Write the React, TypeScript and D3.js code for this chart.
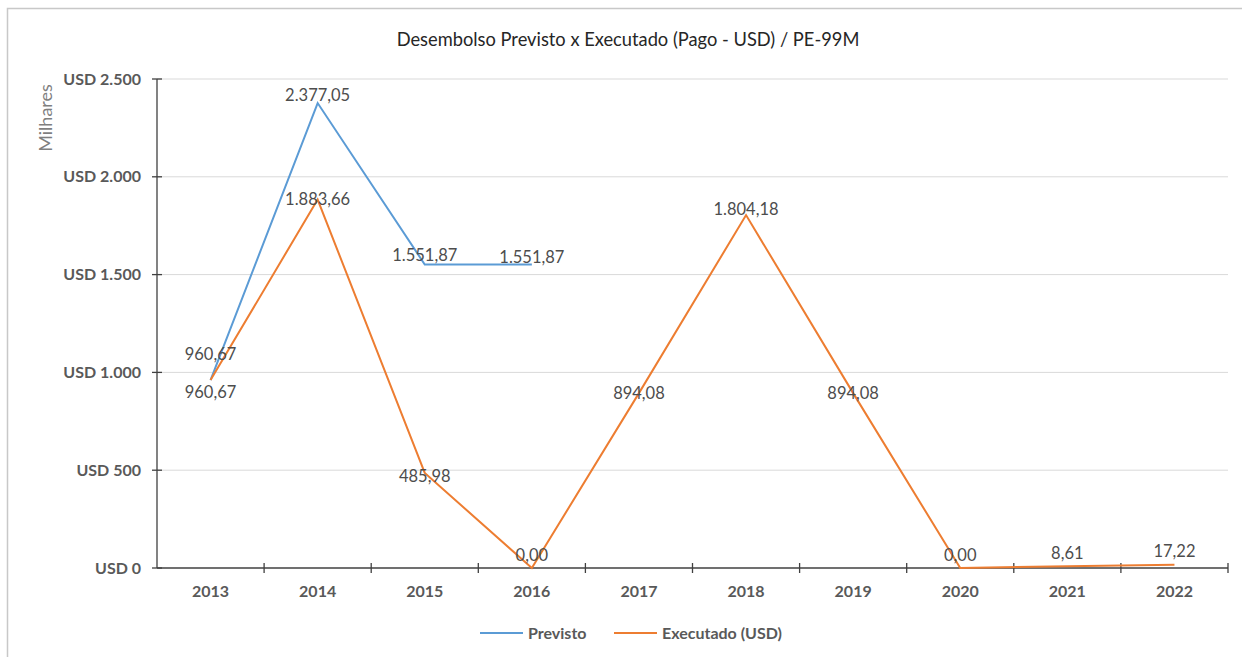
import React from "react";
import * as d3 from "d3";

const years = ["2013", "2014", "2015", "2016", "2017", "2018", "2019", "2020", "2021", "2022"];
const previsto: (number | null)[] = [960.67, 2377.05, 1551.87, 1551.87, null, null, null, null, null, null];
const executado: number[] = [960.67, 1883.66, 485.98, 0, 894.08, 1804.18, 894.08, 0, 8.61, 17.22];
const yTicks = [0, 500, 1000, 1500, 2000, 2500];

const W = 1242;
const H = 657;
const margin = { top: 79, right: 14, bottom: 89, left: 157 };

// label vertical offsets (px, relative to the point), as placed in the original
const prevDy = [-26, -8, -9, -7, 0, 0, 0, 0, 0, 0];
const execDy = [12, 0, 3, -13, 0, -6, 0, -13, -13, -13];

const fmt = (v: number) => {
  const s = v.toFixed(2).split(".");
  const int = s[0].replace(/\B(?=(\d{3})+(?!\d))/g, ".");
  return `${int},${s[1]}`;
};
const fmtTick = (v: number) => "USD " + String(v).replace(/\B(?=(\d{3})+(?!\d))/g, ".");

const App = () => {
  const x = d3
    .scaleBand()
    .domain(years)
    .range([margin.left, W - margin.right])
    .padding(0);
  const y = d3.scaleLinear().domain([0, 2500]).range([H - margin.bottom, margin.top]);
  const cx = (yr: string) => (x(yr) as number) + x.bandwidth() / 2;

  const line = d3
    .line<number | null>()
    .defined((d) => d !== null)
    .x((_, i) => cx(years[i]))
    .y((d) => y(d as number));

  const font = "Lato, 'Open Sans', sans-serif";
  const axisColor = "#404040";
  const x0 = margin.left;
  const x1 = W - margin.right;
  const yBase = y(0);

  return (
    <svg
      width={W}
      height={H}
      style={{ position: "absolute", left: 0, top: 0, background: "#fff" }}
      fontFamily={font}
    >
      <rect x={7.5} y={8.5} width={W} height={H} fill="#fff" stroke="#c8c8c8" strokeWidth={1.5} />
      <text x={628} y={46} textAnchor="middle" fontSize={18.3} fill="#262626">
        Desembolso Previsto x Executado (Pago - USD) / PE-99M
      </text>

      {/* gridlines */}
      {yTicks.slice(1).map((t) => (
        <line key={t} x1={x0} x2={x1} y1={y(t)} y2={y(t)} stroke="#d9d9d9" strokeWidth={1} />
      ))}

      {/* y axis */}
      <line x1={x0} x2={x0} y1={y(2500)} y2={yBase} stroke={axisColor} strokeWidth={1.3} />
      {yTicks.map((t) => (
        <g key={t}>
          <line x1={x0 - 5} x2={x0 + 5} y1={y(t)} y2={y(t)} stroke={axisColor} strokeWidth={1.3} />
          <text
            x={x0 - 16}
            y={y(t)}
            dy="0.35em"
            textAnchor="end"
            fontSize={16}
            fontWeight="bold"
            fill="#595959"
          >
            {fmtTick(t)}
          </text>
        </g>
      ))}
      <text
        transform={`translate(52,${118}) rotate(-90)`}
        textAnchor="middle"
        fontSize={18}
        fill="#7f7f7f"
      >
        Milhares
      </text>

      {/* x axis */}
      <line x1={x0} x2={x1} y1={yBase} y2={yBase} stroke={axisColor} strokeWidth={1.3} />
      {years.map((yr) => (
        <line
          key={"t" + yr}
          x1={(x(yr) as number) + x.bandwidth()}
          x2={(x(yr) as number) + x.bandwidth()}
          y1={yBase - 5}
          y2={yBase + 5}
          stroke={axisColor}
          strokeWidth={1.3}
        />
      ))}
      {years.map((yr) => (
        <text
          key={"l" + yr}
          x={cx(yr)}
          y={yBase + 29}
          textAnchor="middle"
          fontSize={16}
          fontWeight="bold"
          fill="#595959"
        >
          {yr}
        </text>
      ))}

      {/* series */}
      <path d={line(previsto) || ""} fill="none" stroke="#5B9BD5" strokeWidth={2} />
      <path d={line(executado) || ""} fill="none" stroke="#ED7D31" strokeWidth={2} />

      {/* data labels */}
      {previsto.map((v, i) =>
        v === null ? null : (
          <text
            key={"pv" + i}
            x={cx(years[i])}
            y={y(v) + prevDy[i]}
            dy="0.35em"
            textAnchor="middle"
            fontSize={16.5}
            fill="#4d4d4d"
          >
            {fmt(v)}
          </text>
        )
      )}
      {executado.map((v, i) => (
        <text
          key={"ex" + i}
          x={cx(years[i])}
          y={y(v) + execDy[i]}
          dy="0.35em"
          textAnchor="middle"
          fontSize={16.5}
          fill="#4d4d4d"
        >
          {fmt(v)}
        </text>
      ))}

      {/* legend */}
      <line x1={480} x2={523} y1={633} y2={633} stroke="#5B9BD5" strokeWidth={2} />
      <text x={528} y={633} dy="0.35em" fontSize={16} fontWeight="bold" fill="#595959">
        Previsto
      </text>
      <line x1={614} x2={657} y1={633} y2={633} stroke="#ED7D31" strokeWidth={2} />
      <text x={662} y={633} dy="0.35em" fontSize={16} fontWeight="bold" fill="#595959">
        Executado (USD)
      </text>
    </svg>
  );
};

export default App;
